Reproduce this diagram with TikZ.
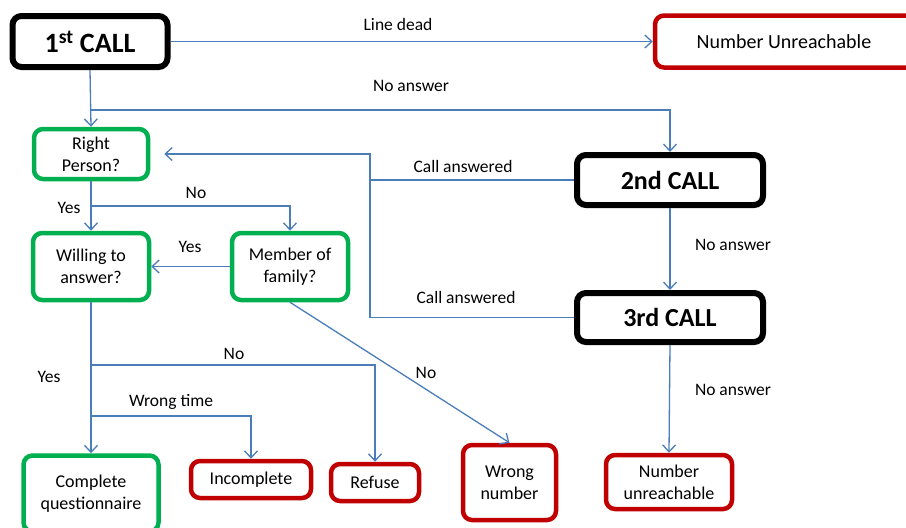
\documentclass[tikz,border=0pt]{standalone}
\usepackage{fontspec}
\setmainfont{Carlito}
\usetikzlibrary{arrows.meta}

\definecolor{linkblue}{HTML}{4A7EBB}
\definecolor{failred}{HTML}{C00000}
\definecolor{okgreen}{HTML}{00B050}

\tikzset{
	box/.style={draw,rounded corners=9pt,line width=4.5pt,fill=white,align=center,inner sep=0pt,font=\fontsize{18}{22}\selectfont},
	callbox/.style={box,draw=black,line width=6pt,font=\fontsize{26}{30}\selectfont\bfseries},
	okbox/.style={box,draw=okgreen},
	endbox/.style={box,draw=failred},
	lbl/.style={font=\fontsize{17.5}{20}\selectfont,inner sep=1pt},
	link/.style={draw=linkblue,line width=1.3pt},
	arr/.style={link,-{Straight Barb[length=7pt,width=13pt]}},
}

\begin{document}
\begin{tikzpicture}[x=1pt,y=-1pt]
			\useasboundingbox (0,0) rectangle (906,528);
			\clip (0,0) rectangle (906,528);
			% the three calls
			\node[callbox,minimum width=155pt,minimum height=51pt,font=\fontsize{28}{30}\selectfont\bfseries] (first) at (90,41.5) {1\textsuperscript{st} CALL};
			\node[callbox,minimum width=186pt,minimum height=50pt] (second) at (670,180) {2nd CALL};
			\node[callbox,minimum width=186pt,minimum height=49pt] (third) at (670,317.5) {3rd CALL};
			
			% questions
			\node[okbox,minimum width=114pt,minimum height=50pt] (right) at (91,154) {Right\\Person?};
			\node[okbox,minimum width=116pt,minimum height=67pt] (willing) at (91,266.5) {Willing to\\answer?};
			\node[okbox,minimum width=116pt,minimum height=67pt] (member) at (290,266.5) {Member of\\family?};
			
			% outcomes (this one runs off the right edge)
			\node[endbox,minimum width=272pt,minimum height=52pt,font=\fontsize{20}{22}\selectfont] (unreach) at (791,41.5) {Number Unreachable\hspace*{14pt}};
			\node[okbox,minimum width=135pt,minimum height=76pt] (complete) at (91,493.5) {Complete\\questionnaire};
			\node[endbox,minimum width=120pt,minimum height=37pt] (incomplete) at (251,479.5) {Incomplete};
			\node[endbox,minimum width=88pt,minimum height=37pt] (refuse) at (375,482.5) {Refuse};
			\node[endbox,minimum width=93pt,minimum height=75pt] (wrong) at (509.5,482.5) {Wrong\\number};
			\node[endbox,minimum width=126pt,minimum height=54pt] (noreach) at (669,482) {Number\\unreachable};
			
			% bends
			\coordinate (noans) at (90,110);
			\coordinate (back) at (370,180);
			\coordinate (nottheone) at (91,206);
			\coordinate (refused) at (91,365);
			\coordinate (later) at (91,416);
			
			% connectors
			\draw[arr] (first.east) -- (unreach.west);
			\draw[arr] (first.south) -- (right.north);
			\draw[arr] (noans) -| (second.north);
			\draw[arr,shorten >=14pt] (second.west) -- (back) |- (right.east);
			\draw[link] (third.west) -| (back);
			\draw[arr] (second.south) -- (third.north);
			\draw[arr] (third.south) -- (noreach.north);
			\draw[arr] (right.south) -- (willing.north);
			\draw[arr] (nottheone) -| (member.north);
			\draw[arr] (member.west) -- (willing.east);
			\draw[arr] (member.south) -- (wrong.north);
			\draw[arr] (willing.south) -- (complete.north);
			\draw[arr] (refused) -| (refuse.north);
			\draw[arr] (later) -| (incomplete.north);
			
			% labels
			\node[lbl] (ldead) at (398,24) {Line dead};
			\node[lbl] (lnoans1) at (411,86) {No answer};
			\node[lbl] (lans2) at (463,166) {Call answered};
			\node[lbl] (lans3) at (466,297) {Call answered};
			\node[lbl] (lnoans2) at (733,245) {No answer};
			\node[lbl] (lnoans3) at (733,390) {No answer};
			\node[lbl] (lno1) at (196,193) {No};
			\node[lbl] (lyes1) at (69,208) {Yes};
			\node[lbl] (lyes2) at (190,247) {Yes};
			\node[lbl] (lno2) at (426,373) {No};
			\node[lbl] (lyes3) at (49,377) {Yes};
			\node[lbl] (lno3) at (234,354) {No};
			\node[lbl] (lwrong) at (171,402) {Wrong time};
		\end{tikzpicture}
\end{document}
